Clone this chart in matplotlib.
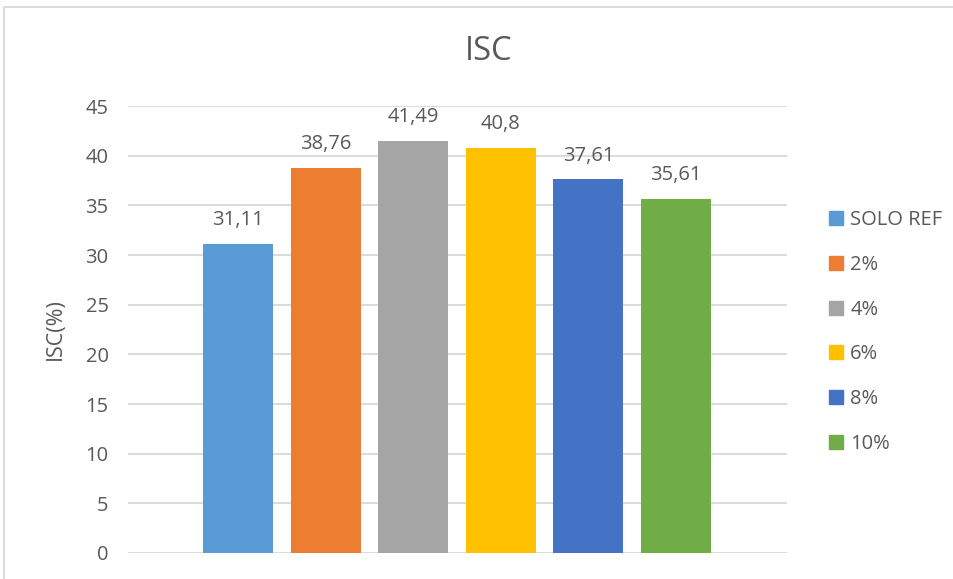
import matplotlib
matplotlib.use("Agg")
import matplotlib.pyplot as plt
from matplotlib.patches import Rectangle

plt.rcParams['font.family'] = ['Open Sans', 'DejaVu Sans']

categories = ["SOLO REF", "2%", "4%", "6%", "8%", "10%"]
values = [31.11, 38.76, 41.49, 40.8, 37.61, 35.61]
value_labels = ["31,11", "38,76", "41,49", "40,8", "37,61", "35,61"]
colors = ["#5B9BD5", "#ED7D31", "#A5A5A5", "#FFC000", "#4472C4", "#70AD47"]
yticks = [0, 5, 10, 15, 20, 25, 30, 35, 40, 45]

W, H = 954, 579
fig = plt.figure(figsize=(W / 100, H / 100), dpi=100)
fig.patch.set_facecolor("white")

# chart-area border
fig.patches.append(Rectangle((4.5 / W, -0.1), 1.2, (H - 7) / H + 0.1,
                             transform=fig.transFigure, fill=False,
                             edgecolor="#d9d9d9", linewidth=1.3))

left, right, top, bottom = 128, 787, 106, 553
ax = fig.add_axes([left / W, (H - bottom) / H, (right - left) / W, (bottom - top) / H])

txt = "#595959"
fs = 14.5
xs = list(range(len(values)))
ax.bar(xs, values, width=0.8, color=colors, zorder=3)
for x, v, lab in zip(xs, values, value_labels):
    ax.annotate(lab, (x, v), xytext=(0, 10), textcoords="offset points",
                ha="center", va="bottom", fontsize=fs, color=txt)

ax.set_xlim(-1.256, 6.267)
ax.set_ylim(0, 45)
ax.set_yticks(yticks)
ax.set_yticklabels([str(t) for t in yticks], fontsize=fs, color=txt)
ax.set_xticks([])
ax.tick_params(axis="y", length=0, pad=14)
ax.yaxis.grid(True, color="#d9d9d9", linewidth=1.3, zorder=0)
for s in ax.spines.values():
    s.set_visible(False)
ax.set_ylabel("ISC(%)", fontsize=15.5, color=txt, labelpad=14)

fig.text(489 / W, 1 - 51 / H, "ISC", ha="center", va="center", fontsize=23.5, color=txt)

# legend
handles = [Rectangle((0, 0), 1, 1, color=c) for c in colors]
fig.legend(handles, categories, loc="upper left",
           bbox_to_anchor=(819 / W, 1 - 200 / H), frameon=False,
           fontsize=fs, labelcolor=txt, handlelength=0.7, handleheight=0.7,
           handletextpad=0.35, labelspacing=1.23, borderpad=0)

fig.savefig("out.png", dpi=100)
